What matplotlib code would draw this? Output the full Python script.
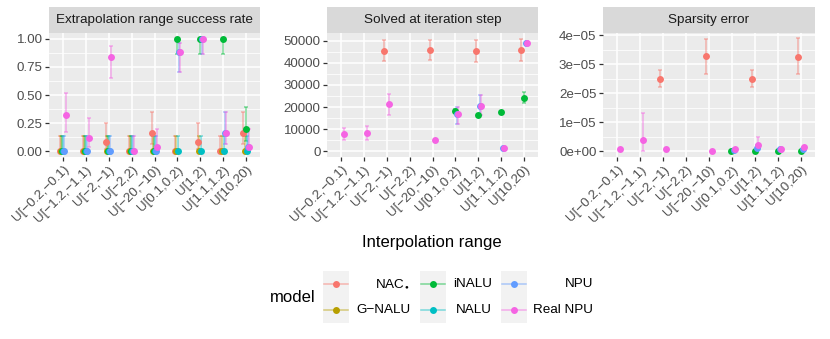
import numpy as np
import matplotlib

matplotlib.use("Agg")
import matplotlib.pyplot as plt
from matplotlib.patches import Rectangle

plt.rcParams["font.family"] = ["Liberation Sans", "DejaVu Sans"]

nan = np.nan

RANGES = ["U[−0.2,−0.1)", "U[−1.2,−1.1)", "U[−2,−1)", "U[−2,2)", "U[−20,−10)",
          "U[0.1,0.2)", "U[1,2)", "U[1.1,1.2)", "U[10,20)"]
MODELS = [r"NAC$_{\bullet}$", "G−NALU", "iNALU", "NALU", "NPU", "Real NPU"]
COLORS = ["#F8766D", "#B79F00", "#00BA38", "#00BFC4", "#619CFF", "#F564E3"]

# Extrapolation range success rate (rows: models, columns: ranges)
SUCCESS = [
    [0, 0, 0.08, 0, 0.16, 0, 0.08, 0, 0.16],
    [0, 0, 0, 0, 0, 0, 0, 0, 0],
    [0, 0, 0, 0, 0, 1.0, 1.0, 1.0, 0.20],
    [0, 0, 0, 0, 0, 0, 0, 0, 0],
    [0, 0, 0, 0, 0, 0.88, 1.0, 0.16, 0.04],
    [0.32, 0.12, 0.84, 0, 0.04, 0.88, 1.0, 0.16, 0.04],
]
SUCCESS_LO = [
    [0, 0, 0.022, 0, 0.064, 0, 0.022, 0, 0.064],
    [0, 0, 0, 0, 0, 0, 0, 0, 0],
    [0, 0, 0, 0, 0, 0.867, 0.867, 0.867, 0.089],
    [0, 0, 0, 0, 0, 0, 0, 0, 0],
    [0, 0, 0, 0, 0, 0.70, 0.867, 0.064, 0.007],
    [0.172, 0.042, 0.653, 0, 0.007, 0.70, 0.867, 0.064, 0.007],
]
SUCCESS_HI = [
    [0.133, 0.133, 0.25, 0.133, 0.347, 0.133, 0.25, 0.133, 0.347],
    [0.133, 0.133, 0.133, 0.133, 0.133, 0.133, 0.133, 0.133, 0.133],
    [0.133, 0.133, 0.133, 0.133, 0.133, 1.0, 1.0, 1.0, 0.391],
    [0.133, 0.133, 0.133, 0.133, 0.133, 0.133, 0.133, 0.133, 0.133],
    [0.133, 0.133, 0.133, 0.133, 0.133, 0.958, 1.0, 0.347, 0.195],
    [0.516, 0.30, 0.936, 0.133, 0.195, 0.958, 1.0, 0.347, 0.195],
]

# Solved at iteration step
SOLVED = [
    [nan, nan, 45500, nan, 45700, nan, 45500, nan, 46000],
    [nan] * 9,
    [nan, nan, nan, nan, nan, 18400, 16500, 17700, 24300],
    [nan] * 9,
    [nan, nan, nan, nan, nan, 16800, 20500, 1500, 49000],
    [7800, 8200, 21300, nan, 5000, 16700, 20600, 1500, 49000],
]
SOLVED_LO = [
    [nan, nan, 40700, nan, 41200, nan, 40500, nan, 41000],
    [nan] * 9,
    [nan, nan, nan, nan, nan, 17900, 16000, 17200, 21800],
    [nan] * 9,
    [nan, nan, nan, nan, nan, 12500, 16500, 1200, 48500],
    [5200, 5200, 16300, nan, 4600, 12500, 16500, 1200, 48000],
]
SOLVED_HI = [
    [nan, nan, 50400, nan, 50200, nan, 50400, nan, 50800],
    [nan] * 9,
    [nan, nan, nan, nan, nan, 18900, 17000, 18200, 27000],
    [nan] * 9,
    [nan, nan, nan, nan, nan, 19800, 25300, 1800, 49500],
    [10500, 11300, 25800, nan, 5400, 19800, 25300, 1800, 50000],
]

# Sparsity error (units of 1e-5)
SPARSE = [
    [nan, nan, 2.48, nan, 3.28, nan, 2.48, nan, 3.24],
    [nan] * 9,
    [nan, nan, nan, nan, nan, 0.0, 0.02, 0.02, 0.0],
    [nan] * 9,
    [nan, nan, nan, nan, nan, 0.05, 0.12, 0.06, 0.08],
    [0.08, 0.38, 0.08, nan, 0.01, 0.07, 0.20, 0.08, 0.14],
]
SPARSE_LO = [
    [nan, nan, 2.22, nan, 2.67, nan, 2.22, nan, 2.67],
    [nan] * 9,
    [nan, nan, nan, nan, nan, 0.0, 0.01, 0.01, 0.0],
    [nan] * 9,
    [nan, nan, nan, nan, nan, 0.03, 0.06, 0.04, 0.05],
    [0.05, 0.0, 0.05, nan, 0.0, 0.04, 0.05, 0.05, 0.10],
]
SPARSE_HI = [
    [nan, nan, 2.80, nan, 3.88, nan, 2.80, nan, 3.90],
    [nan] * 9,
    [nan, nan, nan, nan, nan, 0.01, 0.03, 0.03, 0.01],
    [nan] * 9,
    [nan, nan, nan, nan, nan, 0.07, 0.20, 0.08, 0.11],
    [0.11, 1.33, 0.11, nan, 0.02, 0.10, 0.48, 0.11, 0.18],
]

W, H = 830, 339
fig = plt.figure(figsize=(W / 100, H / 100), dpi=100)

PANEL_X = [(49, 260), (327, 538), (603, 815)]
PANEL_TOP, PANEL_BOT, STRIP_TOP = 33, 157, 7
DODGE = 0.3
GRAY30 = "#4D4D4D"
TICK_FS = 9.6


def px_axes(x0, x1, y0, y1):
    return fig.add_axes([x0 / W, (H - y1) / H, (x1 - x0) / W, (y1 - y0) / H])


panels = [
    ("Extrapolation range success rate", SUCCESS, SUCCESS_LO, SUCCESS_HI, 1.0,
     (-0.05, 1.05), [0, 0.25, 0.5, 0.75, 1.0], ["0.00", "0.25", "0.50", "0.75", "1.00"]),
    ("Solved at iteration step", SOLVED, SOLVED_LO, SOLVED_HI, 1.0,
     (-2700, 53600), [0, 10000, 20000, 30000, 40000, 50000],
     ["0", "10000", "20000", "30000", "40000", "50000"]),
    ("Sparsity error", SPARSE, SPARSE_LO, SPARSE_HI, 1e-5,
     (-0.2e-5, 4.07e-5), [0, 1e-5, 2e-5, 3e-5, 4e-5],
     ["0e+00", "1e−05", "2e−05", "3e−05", "4e−05"]),
]

x = np.arange(len(RANGES))
for (x0, x1), (title, vals, lo, hi, scale, ylim, yt, ytl) in zip(PANEL_X, panels):
    ax = px_axes(x0, x1, PANEL_TOP, PANEL_BOT)
    ax.set_facecolor("#EBEBEB")
    for s in ax.spines.values():
        s.set_visible(False)
    ax.set_xlim(-0.6, len(RANGES) - 0.4)
    ax.set_ylim(*ylim)
    ax.set_yticks(yt)
    ax.set_yticklabels(ytl)
    minor = [(a + b) / 2 for a, b in zip(yt[:-1], yt[1:])]
    ax.set_yticks(minor, minor=True)
    ax.set_xticks(x)
    ax.set_xticklabels(RANGES, rotation=45, ha="right", va="top", rotation_mode="anchor")
    ax.tick_params(axis="both", which="major", length=2.6, width=0.9, color="#333333",
                   labelcolor=GRAY30, labelsize=TICK_FS, pad=2)
    ax.tick_params(axis="y", which="minor", length=0)
    ax.grid(True, which="major", color="white", linewidth=1.1)
    ax.grid(True, which="minor", axis="y", color="white", linewidth=0.55)
    ax.set_axisbelow(True)

    for j, color in enumerate(COLORS):
        xs = x + (j - 2.5) * DODGE / 6
        v = np.array(vals[j], dtype=float) * scale
        l = np.array(lo[j], dtype=float) * scale
        h = np.array(hi[j], dtype=float) * scale
        ok = ~np.isnan(v)
        ax.errorbar(xs[ok], v[ok], yerr=[v[ok] - l[ok], h[ok] - v[ok]], fmt="none",
                    ecolor=color, alpha=0.5, elinewidth=1.1, capsize=1.6, capthick=1.1)
    for j, color in enumerate(COLORS):
        xs = x + (j - 2.5) * DODGE / 6
        v = np.array(vals[j], dtype=float) * scale
        ok = ~np.isnan(v)
        ax.plot(xs[ok], v[ok], "o", color=color, markersize=5.0, markeredgewidth=0, zorder=3)

    sax = px_axes(x0, x1, STRIP_TOP, PANEL_TOP)
    sax.set_facecolor("#D9D9D9")
    sax.set_xticks([])
    sax.set_yticks([])
    for s in sax.spines.values():
        s.set_visible(False)
    sax.text(0.5, 0.5, title, ha="center", va="center", fontsize=9.7, color="#1A1A1A",
             transform=sax.transAxes)

# overlay in pixel coordinates for the shared axis title and legend
ov = fig.add_axes([0, 0, 1, 1], zorder=-1)
ov.set_xlim(0, W)
ov.set_ylim(H, 0)
ov.axis("off")
ov.text(432, 243, "Interpolation range", ha="center", va="center", fontsize=12, color="black")
ov.text(270, 298, "model", ha="left", va="center", fontsize=12, color="black")

KEY_X = [323, 420, 501]
LABEL_R = [410, 492, 593]
KEY_Y0, KEY = 271, 26
for j, (name, color) in enumerate(zip(MODELS, COLORS)):
    col, row = j // 2, j % 2
    kx, ky = KEY_X[col], KEY_Y0 + row * KEY
    ov.add_patch(Rectangle((kx, ky), KEY, KEY, facecolor="#F2F2F2", edgecolor="none"))
    cy = ky + KEY / 2
    ov.plot([kx + 1, kx + KEY - 1], [cy, cy], color=color, alpha=0.5, linewidth=1.1)
    ov.plot([kx + KEY / 2], [cy], "o", color=color, markersize=5.0, markeredgewidth=0)
    ov.text(LABEL_R[col], cy, name, ha="right", va="center", fontsize=9.7, color="black")

fig.savefig("out.png", dpi=100)
